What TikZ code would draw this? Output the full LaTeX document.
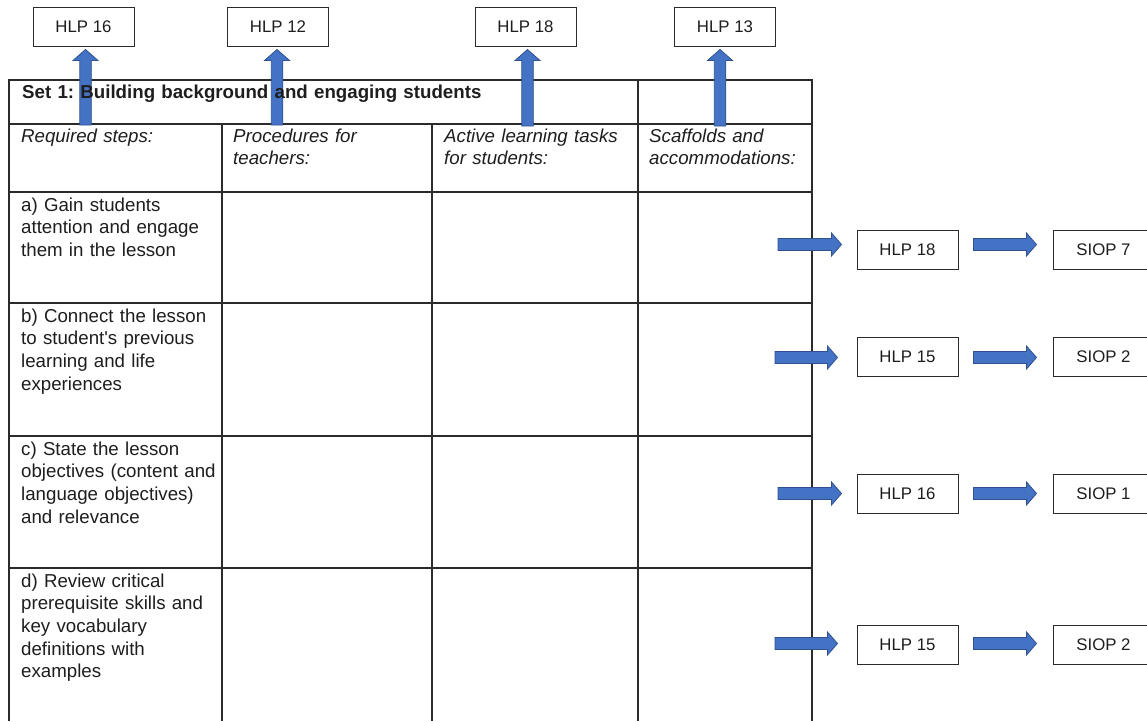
\documentclass[tikz,border=0pt]{standalone}
\usepackage{fontspec}
\setmainfont{Liberation Sans}
\frenchspacing
\usetikzlibrary{calc}
\definecolor{arrowfill}{HTML}{4472C4}
\definecolor{arrowline}{HTML}{2F528F}
\definecolor{gridline}{HTML}{2B2B2B}
\definecolor{inktext}{HTML}{1E1E1E}
\tikzset{
  hlpbox/.style={draw=gridline, line width=1pt, minimum width=101pt, minimum height=39pt, inner sep=0pt, font=\fontsize{16.8}{20}\selectfont, text=inktext},
  gridrule/.style={draw=gridline, line width=1.2pt},
  blockarrow/.style={fill=arrowfill, draw=arrowline, line width=0.8pt, line join=miter},
  celltext/.style={anchor=north west, inner sep=0pt, align=left, text width=205pt, text=inktext, font=\fontsize{18.7}{22.6}\selectfont},
  headtext/.style={celltext, font=\fontsize{18.7}{22.6}\selectfont\itshape},
  titletext/.style={celltext, text width=600pt, font=\fontsize{18.7}{22.6}\selectfont\bfseries},
}
\newcommand{\rightblock}[2]{\path[blockarrow] ($(#1)+(0,-6)$) -- ($(#2)+(-10,-6)$) -- ($(#2)+(-10,-11.5)$) -- (#2) -- ($(#2)+(-10,11.5)$) -- ($(#2)+(-10,6)$) -- ($(#1)+(0,6)$) -- cycle;}
\newcommand{\upblock}[2]{\path[blockarrow] ($(#1)+(-5.75,0)$) -- ($(#2)+(-5.75,11)$) -- ($(#2)+(-12.5,11)$) -- (#2) -- ($(#2)+(12.5,11)$) -- ($(#2)+(5.75,11)$) -- ($(#1)+(5.75,0)$) -- cycle;}
\begin{document}
\begin{tikzpicture}[x=1pt,y=-1pt]
\useasboundingbox (0,0) rectangle (1147,721);
\fill[white] (0,0) rectangle (1147,721);

% table grid
\draw[gridrule] (9,721) -- (9,80) -- (812,80) -- (812,721);
\foreach \yy in {124,192,303,436,568} \draw[gridrule] (9,\yy) -- (812,\yy);
\foreach \xx in {222,432} \draw[gridrule] (\xx,124) -- (\xx,721);
\draw[gridrule] (638,80) -- (638,721);

% top boxes
\node[hlpbox] (t16) at (83.5,26.5) {HLP 16};
\node[hlpbox] (t12) at (278,26.5) {HLP 12};
\node[hlpbox] (t18) at (525.5,26.5) {HLP 18};
\node[hlpbox] (t13) at (725,26.5) {HLP 13};

% right boxes
\node[hlpbox] (ha) at (907.5,249.5) {HLP 18};
\node[hlpbox] (sa) at (1103.5,249.5) {SIOP 7};
\node[hlpbox] (hb) at (907.5,357) {HLP 15};
\node[hlpbox] (sb) at (1103.5,357) {SIOP 2};
\node[hlpbox] (hc) at (907.5,493.5) {HLP 16};
\node[hlpbox] (sc) at (1103.5,493.5) {SIOP 1};
\node[hlpbox] (hd) at (907.5,644.5) {HLP 15};
\node[hlpbox] (sd) at (1103.5,644.5) {SIOP 2};

% up arrows
\coordinate (u16) at (85.5,125);
\coordinate (u12) at (277,125);
\coordinate (u18) at (527.5,126);
\coordinate (u13) at (720,126);
\coordinate (v16) at ($(t16.south)+(2,3)$);
\coordinate (v12) at ($(t12.south)+(-1,3)$);
\coordinate (v18) at ($(t18.south)+(2,3)$);
\coordinate (v13) at ($(t13.south)+(-5,3)$);
\upblock{u16}{v16}
\upblock{u12}{v12}
\upblock{u18}{v18}
\upblock{u13}{v13}

% right arrows
\coordinate (a0) at (778,244.5);
\coordinate (a1) at ($(ha.west)+(-15,-5)$);
\coordinate (a2) at ($(ha.east)+(15,-5)$);
\coordinate (a3) at ($(sa.west)+(-16,-5)$);
\rightblock{a0}{a1}
\rightblock{a2}{a3}
\coordinate (b0) at (775,357.5);
\coordinate (b1) at ($(hb.west)+(-19,0.5)$);
\coordinate (b2) at ($(hb.east)+(15,0.5)$);
\coordinate (b3) at ($(sb.west)+(-16,0.5)$);
\rightblock{b0}{b1}
\rightblock{b2}{b3}
\coordinate (c0) at (778,493.5);
\coordinate (c1) at ($(hc.west)+(-15,0)$);
\coordinate (c2) at ($(hc.east)+(15,0)$);
\coordinate (c3) at ($(sc.west)+(-16,0)$);
\rightblock{c0}{c1}
\rightblock{c2}{c3}
\coordinate (d0) at (775,643.5);
\coordinate (d1) at ($(hd.west)+(-19,-1)$);
\coordinate (d2) at ($(hd.east)+(15,-1)$);
\coordinate (d3) at ($(sd.west)+(-16,-1)$);
\rightblock{d0}{d1}
\rightblock{d2}{d3}

% texts
\node[titletext] (title) at (22,82.2) {\strut Set 1: Building background and engaging students};
\node[headtext] (h1) at (21,126.2) {\strut Required steps:};
\node[headtext] (h2) at (233,126.2) {\strut Procedures for\\teachers:};
\node[headtext] (h3) at (444,126.2) {\strut Active learning tasks\\for students:};
\node[headtext] (h4) at (649,126.2) {\strut Scaffolds and\\accommodations:};
\node[celltext] (ra) at (21,195.2) {\strut a) Gain students\\attention and engage\\them in the lesson};
\node[celltext] (rb) at (21,306.2) {\strut b) Connect the lesson\\to student\textquotesingle s previous\\learning and life\\experiences};
\node[celltext] (rc) at (21,439.2) {\strut c) State the lesson\\objectives (content and\\language objectives)\\and relevance};
\node[celltext] (rd) at (21,571.2) {\strut d) Review critical\\prerequisite skills and\\key vocabulary\\definitions with\\examples};
\end{tikzpicture}
\end{document}
